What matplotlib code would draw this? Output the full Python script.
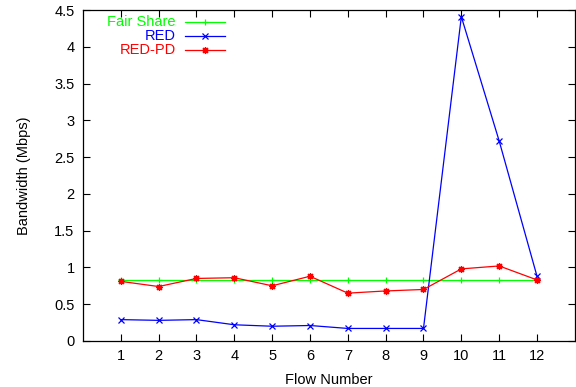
import matplotlib
matplotlib.use("Agg")
import matplotlib.pyplot as plt

plt.rcParams['font.family'] = ['Liberation Sans', 'DejaVu Sans']

# data
flows = [1, 2, 3, 4, 5, 6, 7, 8, 9, 10, 11, 12]
fair_share = [0.833] * 12
red = [0.29, 0.28, 0.29, 0.22, 0.20, 0.21, 0.17, 0.17, 0.17, 4.41, 2.72, 0.88]
red_pd = [0.81, 0.74, 0.85, 0.86, 0.75, 0.88, 0.65, 0.68, 0.70, 0.98, 1.02, 0.83]

series = [
    ("Fair Share", fair_share, "#00ff00", "+"),
    ("RED", red, "#0000ff", "x"),
    ("RED-PD", red_pd, "#ff0000", (8, 2, 0)),
]

fig = plt.figure(figsize=(5.76, 3.87), dpi=100)
ax = fig.add_axes([0.144, 0.119, 0.854, 0.855])

for name, vals, col, mk in series:
    ax.plot(flows, vals, color=col, marker=mk, markersize=5, linewidth=0.9,
            markeredgewidth=0.9)

# gnuplot-like legend: right aligned labels, sample after
ys = [0.964, 0.921, 0.879]
for (name, vals, col, mk), yy in zip(series, ys):
    ax.text(0.189, yy, name, color=col, ha='right', va='center',
            fontsize=10.5, transform=ax.transAxes)
    ax.plot([0.207, 0.289], [yy, yy], color=col, linewidth=0.9,
            transform=ax.transAxes)
    ax.plot([0.248], [yy], color=col, marker=mk, markersize=5,
            markeredgewidth=0.9, transform=ax.transAxes)

ax.set_xlim(0, 13)
ax.set_ylim(0, 4.5)
ax.set_xticks(flows)
ax.set_yticks([0, 0.5, 1, 1.5, 2, 2.5, 3, 3.5, 4, 4.5])
ax.set_yticklabels(["0", "0.5", "1", "1.5", "2", "2.5", "3", "3.5", "4", "4.5"])
ax.tick_params(direction='in', top=True, right=True, labelsize=10.5, length=5,
               width=0.8, pad=6)
for s in ax.spines.values():
    s.set_linewidth(0.9)

ax.set_xlabel("Flow Number", fontsize=10.5, labelpad=7)
ax.set_ylabel("Bandwidth (Mbps)", fontsize=10.5, labelpad=17)

fig.savefig("out.png", dpi=100)
